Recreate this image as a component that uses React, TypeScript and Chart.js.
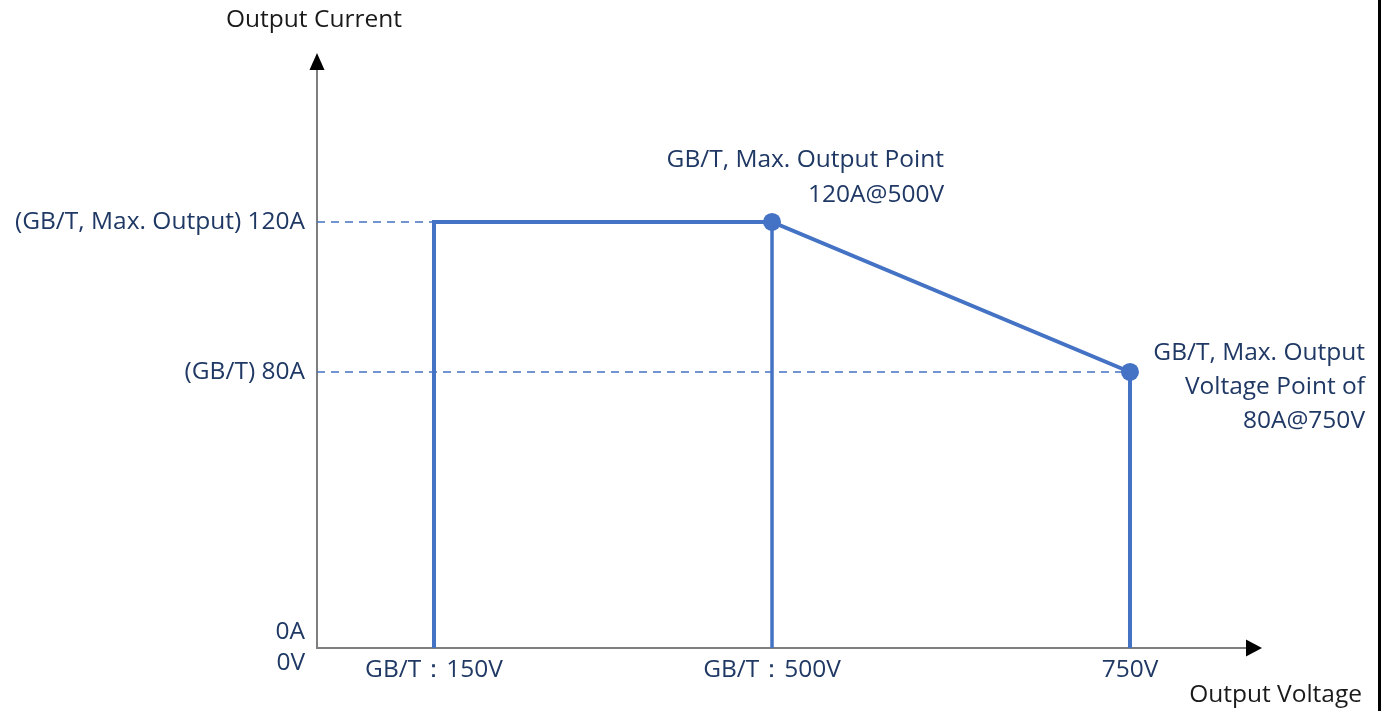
import React, { useEffect, useRef } from 'react';
import { Chart, LinearScale, registerables } from 'chart.js';

// ---- data ----
const xTickValues = [0, 150, 500, 750];
const xTickLabels = ['0V', 'GB/T：150V', 'GB/T：500V', '750V'];
const yTickValues = [0, 80, 120];
const yTickLabels = ['0A', '(GB/T) 80A', '(GB/T, Max. Output) 120A'];

const curveVoltage = [150, 150, 500, 750, 750];
const curveCurrent = [0, 120, 120, 80, 0];

const limit500Voltage = [500, 500];
const limit500Current = [120, 0];

const markerVoltage = [500, 750];
const markerCurrent = [120, 80];

const guide120Voltage = [0, 150];
const guide120Current = [120, 120];
const guide80Voltage = [0, 750];
const guide80Current = [80, 80];
const guide500Voltage = [500, 500];
const guide500Current = [120, 0];

const annotationPoints = [
  { v: 500, a: 120, lines: ['GB/T, Max. Output Point', '120A@500V'] },
  { v: 750, a: 80, lines: ['GB/T, Max. Output', 'Voltage Point of', '80A@750V'] },
];

const xAxisTitle = 'Output Voltage';
const yAxisTitle = 'Output Current';

// ---- schematic (piecewise) scale ----
class PiecewiseScale extends LinearScale {
  static id = 'piecewise';
  breaks(): number[][] {
    return (this.options as any).breaks;
  }
  getPixelForValue(value: number) {
    const b = this.breaks();
    let dec = 0;
    if (value <= b[0][0]) dec = b[0][1];
    else if (value >= b[b.length - 1][0]) dec = b[b.length - 1][1];
    else {
      for (let i = 0; i < b.length - 1; i++) {
        if (value >= b[i][0] && value <= b[i + 1][0]) {
          const t = (value - b[i][0]) / (b[i + 1][0] - b[i][0]);
          dec = b[i][1] + t * (b[i + 1][1] - b[i][1]);
          break;
        }
      }
    }
    return this.getPixelForDecimal(dec);
  }
  getValueForPixel(pixel: number) {
    const dec = this.getDecimalForPixel(pixel);
    const b = this.breaks();
    for (let i = 0; i < b.length - 1; i++) {
      if (dec >= b[i][1] && dec <= b[i + 1][1]) {
        const t = (dec - b[i][1]) / (b[i + 1][1] - b[i][1]);
        return b[i][0] + t * (b[i + 1][0] - b[i][0]);
      }
    }
    return dec < 0 ? b[0][0] : b[b.length - 1][0];
  }
}

Chart.register(...registerables, PiecewiseScale);

const BLUE = '#4472C4';
const NAVY = '#1F3864';
const FONT = '"Open Sans", Lato, sans-serif';

const pts = (xs: number[], ys: number[]) => xs.map((x, i) => ({ x, y: ys[i] }));

const overlay = {
  id: 'overlay',
  beforeDatasetsDraw(chart: any) {
    const { ctx, chartArea } = chart;
    const { left, right, top, bottom } = chartArea;
    ctx.save();
    ctx.strokeStyle = '#7F7F7F';
    ctx.lineWidth = 2;
    ctx.beginPath();
    ctx.moveTo(left, bottom);
    ctx.lineTo(left, top + 16);
    ctx.moveTo(left - 1, bottom);
    ctx.lineTo(right - 15, bottom);
    ctx.stroke();
    ctx.fillStyle = '#000';
    ctx.beginPath();
    ctx.moveTo(left, top);
    ctx.lineTo(left - 7.5, top + 17);
    ctx.lineTo(left + 7.5, top + 17);
    ctx.closePath();
    ctx.fill();
    ctx.beginPath();
    ctx.moveTo(right, bottom);
    ctx.lineTo(right - 16, bottom - 8.5);
    ctx.lineTo(right - 16, bottom + 8.5);
    ctx.closePath();
    ctx.fill();
    ctx.restore();
  },
  afterDraw(chart: any) {
    const { ctx, chartArea, scales } = chart;
    const { left, bottom } = chartArea;
    const xs = scales.x;
    const ys = scales.y;
    ctx.save();
    ctx.font = `24.5px ${FONT}`;
    ctx.fillStyle = NAVY;
    ctx.textBaseline = 'middle';
    // y tick labels
    ctx.textAlign = 'right';
    yTickValues.forEach((v, i) => {
      const py = ys.getPixelForValue(v);
      ctx.fillText(yTickLabels[i], left - 12, v === 0 ? py - 16 : py);
    });
    // x tick labels
    xTickValues.forEach((v, i) => {
      const px = xs.getPixelForValue(v);
      if (v === 0) {
        ctx.textAlign = 'right';
        ctx.fillText(xTickLabels[i], left - 12, bottom + 15);
      } else {
        ctx.textAlign = 'center';
        ctx.fillText(xTickLabels[i], px, bottom + 22);
      }
    });
    // annotations
    ctx.textAlign = 'right';
    annotationPoints.forEach((p, k) => {
      const px = xs.getPixelForValue(p.v);
      const py = ys.getPixelForValue(p.a);
      if (k === 0) {
        p.lines.forEach((l, j) => ctx.fillText(l, px + 172, py - 62 + j * 35));
      } else {
        p.lines.forEach((l, j) => ctx.fillText(l, px + 235, py - 19 + j * 34));
      }
    });
    // axis titles
    ctx.fillStyle = '#1a1a1a';
    ctx.textAlign = 'center';
    ctx.fillText(yAxisTitle, left - 3, 20);
    ctx.textAlign = 'right';
    ctx.fillText(xAxisTitle, 1362, 695);
    // frame edge
    ctx.fillStyle = '#000';
    ctx.fillRect(1378, 0, 3, chart.height);
    ctx.restore();
  },
};

export default function App() {
  const ref = useRef<HTMLCanvasElement>(null);
  useEffect(() => {
    if (!ref.current) return;
    const dashed = {
      borderColor: BLUE,
      borderWidth: 1.6,
      borderDash: [8, 6],
      pointRadius: 0,
      fill: false,
    };
    const chart = new Chart(ref.current, {
      type: 'line',
      data: {
        datasets: [
          { ...dashed, data: pts(guide120Voltage, guide120Current) },
          { ...dashed, data: pts(guide80Voltage, guide80Current) },
          {
            data: pts(limit500Voltage, limit500Current),
            borderColor: BLUE,
            borderWidth: 3.5,
            pointRadius: 0,
            fill: false,
          },
          { ...dashed, data: pts(guide500Voltage, guide500Current) },
          {
            data: pts(curveVoltage, curveCurrent),
            borderColor: BLUE,
            borderWidth: 4,
            pointRadius: 0,
            fill: false,
            tension: 0,
          },
          {
            data: pts(markerVoltage, markerCurrent),
            showLine: false,
            pointRadius: 9,
            pointBackgroundColor: BLUE,
            pointBorderColor: BLUE,
            pointBorderWidth: 0,
          },
        ],
      },
      options: {
        animation: false,
        responsive: false,
        layout: { padding: { left: 317, top: 53, right: 125, bottom: 63 } },
        plugins: { legend: { display: false }, tooltip: { enabled: false } },
        scales: {
          x: {
            type: 'piecewise' as any,
            display: false,
            min: 0,
            max: 900,
            breaks: [[0, 0], [150, 0.1238], [500, 0.4815], [750, 0.8603], [900, 1]],
          } as any,
          y: {
            type: 'piecewise' as any,
            display: false,
            min: 0,
            max: 200,
            breaks: [[0, 0], [80, 0.4639], [120, 0.716], [200, 1]],
          } as any,
        },
      },
      plugins: [overlay],
    });
    return () => chart.destroy();
  }, []);
  return (
    <div style={{ position: 'fixed', left: 0, top: 0, width: 1387, height: 711, background: '#fff' }}>
      <canvas ref={ref} width={1387} height={711} />
    </div>
  );
}
